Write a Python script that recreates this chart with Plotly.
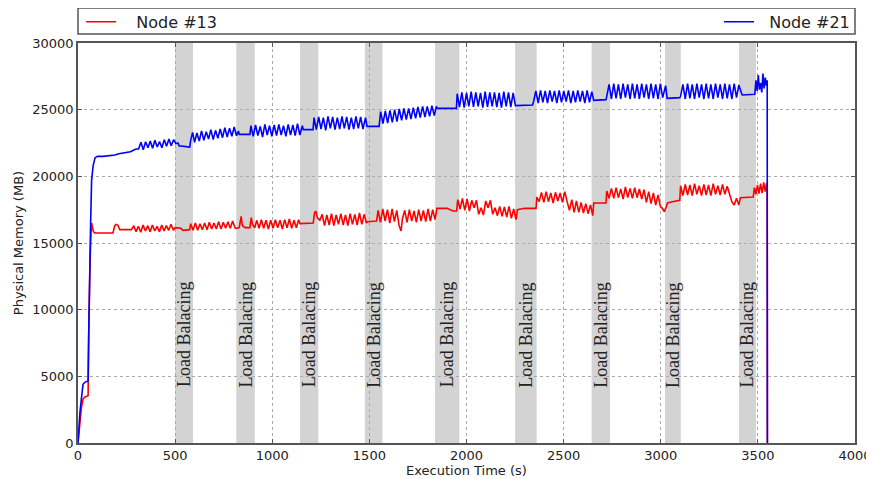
import plotly.graph_objects as go

# ---------------- data ----------------
t21 = [0, 5, 10, 18, 26, 35, 45, 52, 56, 60, 65, 70, 78, 88, 100, 130, 160, 190, 210, 230, 250, 270, 290, 300,
       312, 324, 336, 348, 360, 372, 384, 396, 408, 420, 432, 444, 456, 468, 480, 492, 504, 515,
       520, 540, 565, 575,
       580, 590, 600, 612, 624, 636, 648, 660, 672, 684, 696, 708, 720, 732, 744, 756, 768, 780, 792, 804, 816, 826,
       830, 885,
       890, 902, 914, 926, 938, 950, 962, 974, 986, 998, 1010, 1022, 1034, 1046, 1058, 1070, 1082, 1094, 1106, 1118, 1130, 1142, 1155,
       1160, 1210,
       1215, 1227, 1239, 1251, 1263, 1275, 1287, 1299, 1311, 1323, 1335, 1347, 1359, 1371, 1383, 1395, 1407, 1419, 1431, 1443, 1455, 1467, 1480,
       1488, 1550,
       1558, 1570, 1582, 1594, 1606, 1618, 1630, 1642, 1654, 1666, 1678, 1690, 1702, 1714, 1726, 1738, 1750, 1762, 1774, 1786, 1798, 1810, 1822, 1834, 1845,
       1850, 1948,
       1952, 1964, 1976, 1988, 2000, 2012, 2024, 2036, 2048, 2060, 2072, 2084, 2096, 2108, 2120, 2132, 2144, 2156, 2168, 2180, 2192, 2204, 2216, 2228, 2240, 2252,
       2260, 2340,
       2345, 2357, 2369, 2381, 2393, 2405, 2417, 2429, 2441, 2453, 2465, 2477, 2489, 2501, 2513, 2525, 2537, 2549, 2561, 2573, 2585, 2597, 2609, 2621, 2633, 2645,
       2655, 2718,
       2722, 2734, 2746, 2758, 2770, 2782, 2794, 2806, 2818, 2830, 2842, 2854, 2866, 2878, 2890, 2902, 2914, 2926, 2938, 2950, 2962, 2974, 2986, 2998, 3010, 3025,
       3033, 3098,
       3102, 3114, 3126, 3138, 3150, 3162, 3174, 3186, 3198, 3210, 3222, 3234, 3246, 3258, 3270, 3282, 3294, 3306, 3318, 3330, 3342, 3354, 3366, 3378, 3390, 3402, 3414,
       3420, 3484,
       3490, 3496, 3502, 3508, 3514, 3520, 3526, 3532, 3538, 3544, 3548, 3549]
mem21 = [0, 1200, 2300, 3400, 4400, 4550, 4600, 4650, 9000, 13500, 16500, 19700, 20800, 21400, 21500, 21500, 21550, 21600, 21700, 21750, 21800, 21850, 22000, 22050,
         22050, 22550, 22000, 22600, 22150, 22650, 22100, 22700, 22200, 22600, 22150, 22750, 22250, 22800, 22300, 22750, 22450, 22500,
         22300, 22250, 22200, 22200,
         22700, 23300, 22550, 23250, 22650, 23400, 22700, 23350, 22800, 23500, 22750, 23450, 22850, 23550, 22900, 23650, 22950, 23600, 23000, 23700, 23050, 23400,
         23150, 23150,
         23800, 23000, 23850, 23050, 23750, 22950, 23900, 23100, 23800, 23000, 23850, 23050, 23900, 23100, 23800, 23000, 23900, 23100, 23850, 23050, 23950, 23100, 23800,
         23500, 23500,
         24400, 23500, 24450, 23550, 24400, 23450, 24500, 23600, 24450, 23500, 24400, 23550, 24500, 23600, 24450, 23500, 24400, 23550, 24500, 23600, 24450, 23550, 24400,
         23750, 23750,
         24850, 23950, 24900, 24000, 24950, 24050, 25000, 24100, 25050, 24200, 25100, 24250, 25100, 24300, 25150, 24350, 25200, 24400, 25250, 24450, 25250, 24500, 25300, 24550, 25250,
         25100, 25100,
         26200, 25200, 26300, 25150, 26250, 25250, 26350, 25200, 26300, 25250, 26250, 25150, 26350, 25200, 26300, 25250, 26300, 25200, 26250, 25150, 26350, 25250, 26300, 25200, 26250, 25300,
         25300, 25350,
         25600, 26400, 25500, 26450, 25550, 26400, 25500, 26450, 25600, 26400, 25500, 26450, 25550, 26400, 25600, 26450, 25500, 26400, 25550, 26450, 25600, 26400, 25500, 26450, 25550, 26350,
         25700, 25750,
         26000, 26900, 25800, 26950, 25850, 26900, 25800, 26950, 25900, 26900, 25800, 26950, 25850, 26900, 25800, 26950, 25900, 26900, 25800, 26950, 25850, 26900, 25800, 26950, 25900, 26800,
         25850, 25900,
         26000, 26900, 25800, 26950, 25850, 26900, 25800, 26950, 25900, 26900, 25800, 26950, 25850, 26900, 25800, 26950, 25900, 26900, 25800, 26950, 25850, 26900, 25800, 26950, 25900, 26850, 26300,
         26100, 26150,
         27200, 26400, 27600, 26500, 27000, 26300, 27700, 26600, 27400, 26800, 27200, 0]

t13 = [0, 5, 10, 18, 26, 35, 45, 52, 55, 58, 62, 66, 70, 74, 78, 85, 100, 130, 180, 189, 196, 205, 215, 240, 275,
       287, 299, 311, 323, 335, 347, 359, 371, 383, 395, 407, 419, 431, 443, 455, 467, 479, 491,
       500, 515, 530, 540, 565, 575,
       580, 592, 604, 616, 628, 640, 652, 664, 676, 688, 700, 712, 724, 736, 748, 760, 772, 784, 796, 808,
       815, 830, 840, 846, 860, 885, 892, 898, 910,
       920, 932, 944, 956, 968, 980, 992, 1004, 1016, 1028, 1040, 1052, 1064, 1076, 1088, 1100, 1112, 1124, 1136,
       1143, 1180, 1211, 1218, 1225, 1232, 1245,
       1257, 1269, 1281, 1293, 1305, 1317, 1329, 1341, 1353, 1365, 1377, 1389, 1401, 1413, 1425, 1437, 1449, 1461, 1473, 1485,
       1490, 1537,
       1545, 1557, 1569, 1581, 1593, 1605, 1617, 1629, 1641, 1653, 1663, 1670, 1682, 1694, 1706, 1718, 1730, 1742, 1754, 1766, 1778, 1790, 1802, 1814, 1826, 1838,
       1848, 1900, 1930, 1949,
       1955, 1967, 1979, 1991, 2003, 2015, 2027, 2039, 2051, 2063, 2075, 2087, 2099, 2111, 2123, 2135, 2147, 2159, 2171, 2183, 2195, 2207, 2219, 2231, 2243, 2255,
       2262, 2300, 2358,
       2362, 2374, 2386, 2398, 2410, 2422, 2434, 2446, 2458, 2470, 2482, 2494, 2506, 2518, 2530, 2542, 2554, 2566, 2578, 2590, 2602, 2614, 2626, 2638, 2650,
       2655, 2718,
       2722, 2734, 2746, 2758, 2770, 2782, 2794, 2806, 2818, 2830, 2842, 2854, 2866, 2878, 2890, 2902, 2914, 2926, 2938, 2950, 2962, 2974, 2986, 2998,
       3008, 3018, 3028, 3035, 3060, 3098,
       3102, 3114, 3126, 3138, 3150, 3162, 3174, 3186, 3198, 3210, 3222, 3234, 3246, 3258, 3270, 3282, 3294, 3306, 3318, 3330, 3342, 3354,
       3366, 3378, 3390, 3402, 3410, 3476,
       3482, 3490, 3498, 3506, 3514, 3522, 3530, 3538, 3545, 3548, 3549]
mem13 = [0, 900, 1800, 2700, 3300, 3450, 3500, 3550, 8000, 12800, 13500, 15400, 16500, 16200, 15900, 15750, 15750, 15750, 15750, 16300, 16400, 16350, 16000, 16000, 16000,
         16300, 15850, 16250, 15800, 16350, 15900, 16300, 15850, 16350, 15900, 16250, 15850, 16350, 15900, 16300, 15950, 16400, 15950,
         16150, 16100, 16100, 15950, 16000, 16000,
         16450, 15950, 16500, 15950, 16450, 16000, 16500, 16000, 16550, 16050, 16500, 16050, 16600, 16050, 16550, 16100, 16600, 16100, 16650, 16150,
         16100, 16150, 17000, 16300, 16150, 16150, 16900, 16400, 16150,
         16700, 16100, 16750, 16100, 16700, 16050, 16700, 16100, 16750, 16150, 16700, 16050, 16750, 16150, 16800, 16100, 16700, 16150, 16750,
         16450, 16500, 16500, 17300, 17350, 16900, 16700,
         17150, 16300, 17100, 16350, 17200, 16300, 17100, 16400, 17200, 16350, 17100, 16300, 17200, 16400, 17150, 16350, 17250, 16400, 17150, 16500,
         16600, 16650,
         17450, 16550, 17550, 16650, 17500, 16500, 17550, 16600, 17450, 16300, 15900, 16800, 17450, 16550, 17500, 16650, 17400, 16550, 17500, 16650, 17450, 16600, 17550, 16650, 17500, 16750,
         17600, 17600, 17400, 17400,
         18250, 17550, 18350, 17450, 18300, 17400, 18200, 17650, 18200, 17150, 17650, 17100, 18150, 17650, 18200, 17150, 17650, 17050, 17750, 17000, 17700, 16950, 17750, 16850, 17550, 16750,
         17500, 17600, 17600,
         18450, 18100, 18800, 18050, 18850, 18100, 18750, 18000, 18800, 18150, 18750, 18050, 18850, 18100, 17450, 18250, 17300, 18150, 17300, 18050, 17250, 17950, 17200, 17850, 17050,
         18000, 18000,
         18900, 18350, 19100, 18350, 19150, 18400, 19050, 18300, 19200, 18400, 19100, 18350, 19150, 18400, 19050, 18300, 19000, 18050, 18850, 17950, 18750, 17850, 18600, 17750,
         17600, 17350, 17700, 18000, 18100, 18200,
         19300, 18550, 19400, 18600, 19350, 18550, 19450, 18650, 19300, 18550, 19400, 18600, 19350, 18550, 19450, 18650, 19300, 18600, 19400, 18650, 19250, 18600,
         18100, 17850, 18350, 17850, 18400, 18450,
         19150, 18650, 19350, 18700, 19450, 18750, 19550, 18850, 19500, 19300, 0]

band_start = [500, 815, 1143, 1477, 1838, 2250, 2644, 3022, 3403]
band_end = [592, 910, 1237, 1567, 1963, 2361, 2739, 3103, 3490]
band_label = "Load Balacing"
band_label_y = 8100

x_ticks = [0, 500, 1000, 1500, 2000, 2500, 3000, 3500, 4000]
y_ticks = [0, 5000, 10000, 15000, 20000, 25000, 30000]

# ---------------- figure ----------------
fig = go.Figure()
fig.add_trace(go.Scatter(x=t13, y=mem13, mode="lines", name="\u00a0\u00a0\u00a0Node #13",
                         line=dict(color="#ff0000", width=1.6), legend="legend"))
fig.add_trace(go.Scatter(x=t21, y=mem21, mode="lines", name="\u00a0\u00a0Node #21",
                         line=dict(color="#0000ff", width=1.6), legend="legend2"))

shapes = []
annotations = []
for s, e in zip(band_start, band_end):
    shapes.append(dict(type="rect", xref="x", yref="y", x0=s, x1=e, y0=0, y1=30000,
                       fillcolor="#d3d3d3", line=dict(width=0), layer="below"))
    annotations.append(dict(x=(s + e) / 2, y=band_label_y, xref="x", yref="y",
                            text=band_label, textangle=-90, showarrow=False,
                            font=dict(family="Liberation Serif", size=18, color="#222")))
# legend frame
shapes.append(dict(type="rect", xref="paper", yref="paper", x0=0, x1=1, y0=1.0225, y1=1.0875,
                   line=dict(color="#555", width=1.5), fillcolor="rgba(0,0,0,0)"))

axis_common = dict(showline=True, linecolor="#555", linewidth=1.5, mirror="ticks",
                   ticks="inside", ticklen=4, tickcolor="#555",
                   showgrid=True, gridcolor="#aaaaaa", griddash="dot", gridwidth=1,
                   zeroline=False, tickfont=dict(family="DejaVu Sans", size=13, color="#222"))

# the page body adds an 8px offset, so the figure is 8px smaller and margins shifted
fig.update_layout(
    width=866, height=471,
    margin=dict(l=70, r=19, t=35, b=36, autoexpand=False),
    paper_bgcolor="white", plot_bgcolor="white",
    font=dict(family="DejaVu Sans", color="#222"),
    xaxis=dict(range=[0, 4000], tickvals=x_ticks, ticktext=[str(v) for v in x_ticks],
               title=dict(text="Execution Time (s)", font=dict(size=13), standoff=2), **axis_common),
    yaxis=dict(range=[0, 30000], tickvals=y_ticks, ticktext=[str(v) for v in y_ticks],
               title=dict(text="Physical Memory (MB)", font=dict(size=13), standoff=6), **axis_common),
    legend=dict(x=0.004, y=1.053, xanchor="left", yanchor="middle", orientation="h",
                bgcolor="rgba(0,0,0,0)", font=dict(family="DejaVu Sans", size=16, color="#222")),
    legend2=dict(x=1.0, y=1.053, xanchor="right", yanchor="middle", orientation="h",
                 bgcolor="rgba(0,0,0,0)", font=dict(family="DejaVu Sans", size=16, color="#222")),
    shapes=shapes,
    annotations=annotations,
    showlegend=True,
)

fig.write_html("out.html")
